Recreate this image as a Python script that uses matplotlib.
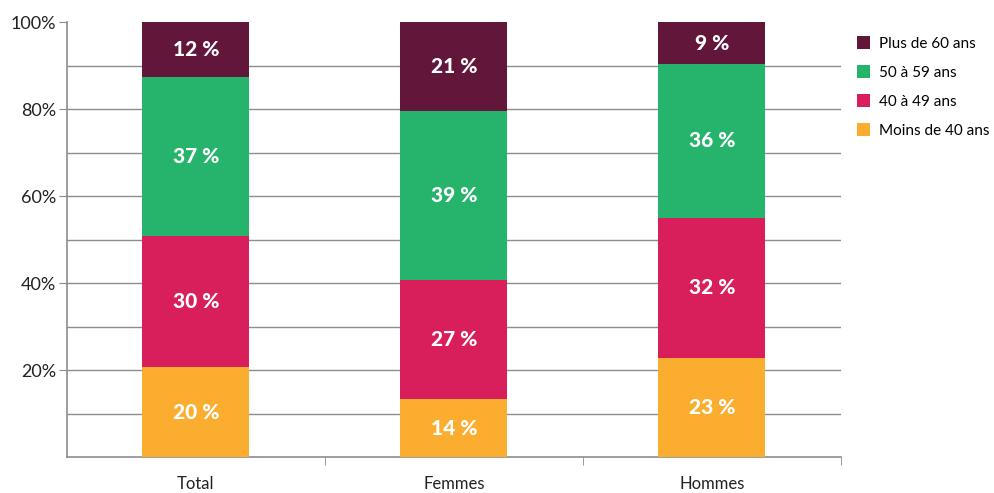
import matplotlib.pyplot as plt
from matplotlib.patches import Patch
import numpy as np

groups = ["Total", "Femmes", "Hommes"]
series = ["Moins de 40 ans", "40 à 49 ans", "50 à 59 ans", "Plus de 60 ans"]
colors = ["#FBAD2F", "#D81E5B", "#26B36B", "#62163A"]

# share of each age band (bar heights)
moins40 = [20.7, 13.3, 22.8]
de40a49 = [30.1, 27.4, 32.2]
de50a59 = [36.6, 38.9, 35.4]
plus60 = [12.6, 20.4, 9.6]

# printed labels
lab_moins40 = [20, 14, 23]
lab_40a49 = [30, 27, 32]
lab_50a59 = [37, 39, 36]
lab_plus60 = [12, 21, 9]

values = [moins40, de40a49, de50a59, plus60]
labels = [lab_moins40, lab_40a49, lab_50a59, lab_plus60]

plt.rcParams['font.family'] = ['Lato', 'DejaVu Sans']
grid_col = "#8c8c92"

fig = plt.figure(figsize=(9.95, 4.93), dpi=100)
ax = fig.add_axes([0.0673, 0.073, 0.7777, 0.882])

x = np.arange(len(groups))
bottom = np.zeros(len(groups))
for vals, labs, col in zip(values, labels, colors):
    vals = np.array(vals)
    ax.bar(x, vals, 0.415, bottom=bottom, color=col, zorder=3)
    for xi, b, v, l in zip(x, bottom, vals, labs):
        ax.text(xi, b + v / 2, f"{l} %", ha="center", va="center",
                color="white", fontsize=15, fontweight=900, zorder=4)
    bottom += vals

ax.set_xlim(-0.5, 2.5)
ax.set_ylim(0, 100)
for yv in range(10, 100, 10):
    ax.axhline(yv, color=grid_col, lw=1, zorder=1)

ax.set_yticks([20, 40, 60, 80, 100])
ax.set_yticklabels(["20%", "40%", "60%", "80%", "100%"], fontsize=13, color="#222222")
ax.tick_params(axis="y", length=6, color=grid_col, pad=2)
ax.set_xticks(x)
ax.set_xticklabels(groups, fontsize=12, color="#222222")
ax.set_xticks([0.5, 1.5, 2.5], minor=True)
ax.tick_params(axis="x", which="major", length=0, pad=14)
ax.tick_params(axis="x", which="minor", length=6, color=grid_col)

for s in ["top", "right"]:
    ax.spines[s].set_visible(False)
for s in ["left", "bottom"]:
    ax.spines[s].set_color(grid_col)
    ax.spines[s].set_linewidth(1.2)

handles = [Patch(facecolor=c) for c in colors[::-1]]
fig.legend(handles, series[::-1], loc="upper left", bbox_to_anchor=(0.847, 0.955),
           frameon=False, fontsize=11, handlelength=0.9, handleheight=0.9,
           handletextpad=0.6, labelspacing=0.95)

fig.savefig("out.png", dpi=100)
